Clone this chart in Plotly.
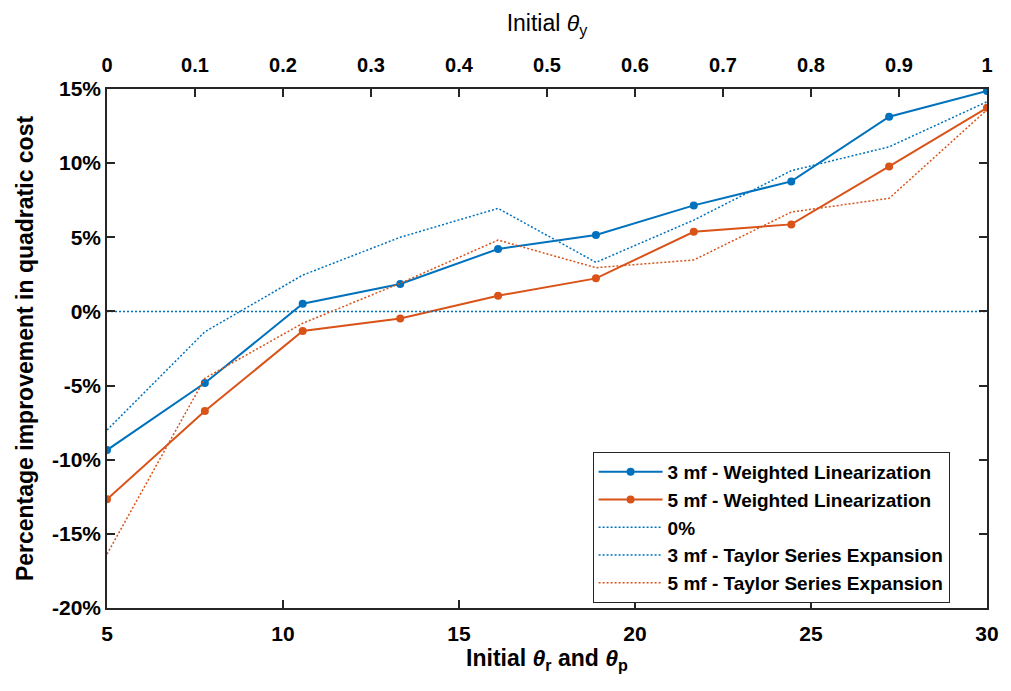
import plotly.graph_objects as go

theta_rp = [5, 7.78, 10.56, 13.33, 16.11, 18.89, 21.67, 24.44, 27.22, 30]
theta_y_ticks = [0, 0.1, 0.2, 0.3, 0.4, 0.5, 0.6, 0.7, 0.8, 0.9, 1]
x_ticks = [5, 10, 15, 20, 25, 30]
y_ticks = [-20, -15, -10, -5, 0, 5, 10, 15]
wl3 = [-9.35, -4.83, 0.52, 1.85, 4.21, 5.15, 7.15, 8.77, 13.13, 14.87]
wl5 = [-12.67, -6.72, -1.32, -0.47, 1.06, 2.23, 5.37, 5.87, 9.78, 13.73]
zero = [0, 0, 0, 0, 0, 0, 0, 0, 0, 0]
ts3 = [-8.0, -1.37, 2.45, 5.0, 6.95, 3.31, 6.16, 9.49, 11.1, 14.14]
ts5 = [-16.36, -4.51, -0.8, 1.9, 4.81, 2.95, 3.47, 6.7, 7.63, 13.6]

BLUE = "#0072BD"
ORANGE = "#D95319"
FONT = "Liberation Sans"
DOT = "2px,2px"

fig = go.Figure()
fig.add_trace(go.Scatter(x=theta_rp, y=wl3, mode="lines+markers", name="<b>3 mf - Weighted Linearization</b>",
                         line=dict(color=BLUE, width=2), marker=dict(size=8, color=BLUE)))
fig.add_trace(go.Scatter(x=theta_rp, y=wl5, mode="lines+markers", name="<b>5 mf - Weighted Linearization</b>",
                         line=dict(color=ORANGE, width=2), marker=dict(size=8, color=ORANGE)))
fig.add_trace(go.Scatter(x=theta_rp, y=zero, mode="lines", name="<b>0%</b>",
                         line=dict(color=BLUE, width=1.5, dash=DOT)))
fig.add_trace(go.Scatter(x=theta_rp, y=ts3, mode="lines", name="<b>3 mf - Taylor Series Expansion</b>",
                         line=dict(color=BLUE, width=1.5, dash=DOT)))
fig.add_trace(go.Scatter(x=theta_rp, y=ts5, mode="lines", name="<b>5 mf - Taylor Series Expansion</b>",
                         line=dict(color=ORANGE, width=1.5, dash=DOT)))
# invisible trace to activate the top axis
fig.add_trace(go.Scatter(x=[theta_y_ticks[0], theta_y_ticks[-1]], y=[0, 0], xaxis="x2", mode="lines",
                         line=dict(width=0), showlegend=False, hoverinfo="skip", opacity=0))

axis_common = dict(ticks="inside", ticklen=8, tickwidth=1.5, tickcolor="#262626", showline=True,
                   linecolor="#262626", linewidth=1.5, showgrid=False, zeroline=False)
fig.update_layout(
    width=1011, height=691,
    margin=dict(l=107, r=16, t=89, b=83),
    paper_bgcolor="white", plot_bgcolor="white",
    font=dict(family=FONT, color="black"),
    xaxis=dict(range=[5, 30], tickvals=x_ticks, ticktext=[f"<b>{v}</b>" for v in x_ticks],
               tickfont=dict(family=FONT, size=21, color="black"), ticklabelstandoff=6,
               title=dict(text="<b>Initial <i>θ</i><sub>r</sub> and <i>θ</i><sub>p</sub></b>",
                          font=dict(family=FONT, size=23), standoff=6), **axis_common),
    xaxis2=dict(range=[0, 1], tickvals=theta_y_ticks, ticktext=[f"<b>{v:g}</b>" for v in theta_y_ticks],
                overlaying="x", side="top", tickfont=dict(family=FONT, size=20, color="black"),
                ticklabelstandoff=7,
                title=dict(text="Initial <i>θ</i><sub>y</sub>", font=dict(family=FONT, size=23), standoff=16),
                **axis_common),
    yaxis=dict(range=[-20, 15], tickvals=y_ticks, ticktext=[f"<b>{v}%</b>" for v in y_ticks],
               mirror="ticks", tickfont=dict(family=FONT, size=21, color="black"),
               title=dict(text="<b>Percentage improvement in quadratic cost</b>",
                          font=dict(family=FONT, size=23), standoff=12), **axis_common),
    legend=dict(x=0.5518, y=0.3006, xanchor="left", yanchor="top", bgcolor="white",
                bordercolor="#262626", borderwidth=1,
                font=dict(family=FONT, size=19, color="black"), tracegroupgap=0, itemwidth=64),
)

fig.write_html("out.html")
